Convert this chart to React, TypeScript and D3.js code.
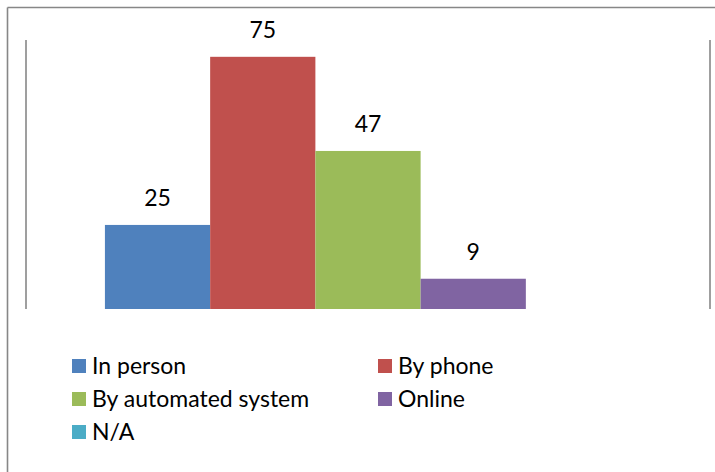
import React from "react";
import * as d3 from "d3";

const categories = ["Total"];
const seriesNames = ["In person", "By phone", "By automated system", "Online", "N/A"];
const seriesValues = [25, 75, 47, 9, 0];
const seriesColors = ["#4F81BD", "#C0504D", "#9BBB59", "#8064A2", "#4BACC6"];
const yDomainMax = 80;

const W = 715;
const H = 472;
const plotLeft = 26;
const plotRight = 710;
const plotTop = 40;
const plotBottom = 309;
const FONT = "Lato, 'Open Sans', sans-serif";

export default function App() {
  const x0 = d3.scaleBand<string>().domain(categories).range([plotLeft, plotRight]).paddingInner(0).paddingOuter(0.15);
  const x1 = d3.scaleBand<string>().domain(seriesNames).range([0, x0.bandwidth()]).padding(0);
  const y = d3.scaleLinear().domain([0, yDomainMax]).range([plotBottom, plotTop]);

  const legendCols = [72, 378];
  const legendRowY = [359, 392, 425];

  return (
    <div style={{ position: "absolute", left: 0, top: 0 }}>
      <svg width={W} height={H} style={{ display: "block", background: "#fff" }}>
        <rect x={0} y={0} width={W} height={H} fill="#fff" />
        {/* outer frame (top and left only visible) */}
        <line x1={7.5} y1={7.5} x2={W} y2={7.5} stroke="#878787" strokeWidth={1.6} />
        <line x1={7.5} y1={7.5} x2={7.5} y2={H} stroke="#878787" strokeWidth={1.6} />
        {/* plot side lines */}
        <line x1={plotLeft} y1={plotTop} x2={plotLeft} y2={plotBottom} stroke="#878787" strokeWidth={1.6} />
        <line x1={plotRight} y1={plotTop} x2={plotRight} y2={plotBottom} stroke="#878787" strokeWidth={1.6} />
        {categories.map((c) => (
          <g key={c} transform={`translate(${x0(c)},0)`}>
            {seriesNames.map((s, i) => {
              const v = seriesValues[i];
              if (v <= 0) return null;
              const bx = x1(s)!;
              const bw = x1.bandwidth();
              return (
                <g key={s}>
                  <rect x={bx} y={y(v)} width={bw} height={y(0) - y(v)} fill={seriesColors[i]} />
                  <text
                    x={bx + bw / 2}
                    y={y(v) - 19}
                    textAnchor="middle"
                    fontFamily={FONT}
                    fontSize={23}
                    fill="#000"
                  >
                    {v}
                  </text>
                </g>
              );
            })}
          </g>
        ))}
        {seriesNames.map((s, i) => {
          const col = i % 2;
          const row = Math.floor(i / 2);
          const lx = legendCols[col];
          const ly = legendRowY[row];
          return (
            <g key={s}>
              <rect x={lx} y={ly} width={14} height={14} fill={seriesColors[i]} />
              <text x={lx + 20} y={ly + 15} fontFamily={FONT} fontSize={23} fill="#000">
                {s}
              </text>
            </g>
          );
        })}
      </svg>
    </div>
  );
}
